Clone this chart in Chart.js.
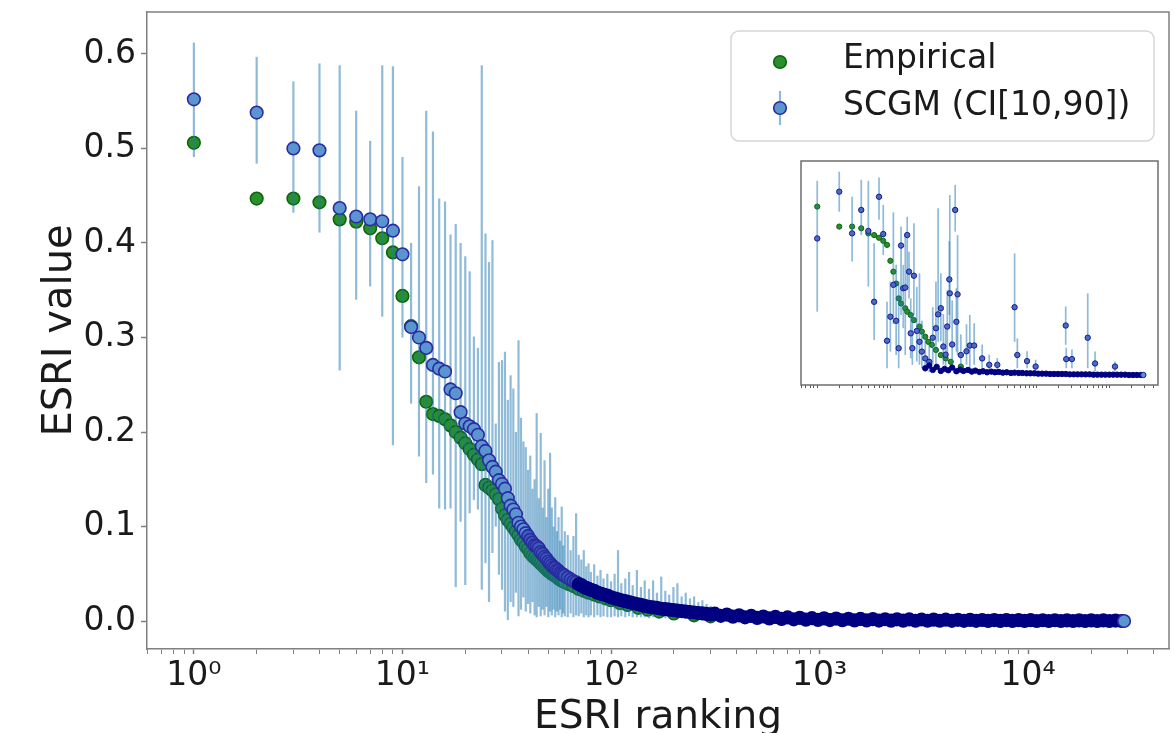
<!DOCTYPE html>
<html>
<head>
<meta charset="utf-8">
<script src="https://cdn.jsdelivr.net/npm/chart.js@4.4.1/dist/chart.umd.min.js"></script>
<style>
  body { margin: 0; background: #fff; }
  #wrap { position: relative; width: 1175px; height: 733px; overflow: hidden; }
  #main { position: absolute; left: 0; top: 0; }
  #inset { position: absolute; left: 800px; top: 160px; }
</style>
</head>
<body>
<div id="wrap">
  <canvas id="main" width="1175" height="733"></canvas>
  <canvas id="inset" width="361" height="230"></canvas>
</div>
<script>
// axis ticks
const xTickValues = [1, 10, 100, 1000, 10000];
const xTickLabels = ["10⁰", "10¹", "10²", "10³", "10⁴"];
const yTickValues = [0, 0.1, 0.2, 0.3, 0.4, 0.5, 0.6];

// Empirical ESRI value by ranking
const empRanks = [
  1, 2, 3, 4, 5, 6, 7, 8, 9, 10, 11, 12, 13, 14, 15, 16, 17, 18, 19, 20,
  21, 22, 23, 24, 25, 26, 27, 28, 29, 30, 31, 32, 33, 34, 35, 36, 37, 38, 39, 40,
  41, 42, 43, 44, 45, 46, 47, 48, 49, 50, 51, 52, 53, 54, 55, 56, 57, 58, 59, 60,
  63, 66, 70, 74, 78, 83, 88, 94, 100, 110, 120, 135, 150, 170, 200, 250, 300,
];
const empValues = [
  0.506, 0.447, 0.447, 0.443, 0.425, 0.4225, 0.4155, 0.405, 0.39, 0.344,
  0.312, 0.279, 0.232, 0.219, 0.217, 0.2135, 0.207, 0.2, 0.194, 0.188,
  0.182, 0.176, 0.171, 0.166, 0.144, 0.141, 0.138, 0.134, 0.129, 0.119,
  0.112, 0.107, 0.103, 0.099, 0.095, 0.091, 0.086, 0.083, 0.079, 0.076,
  0.072, 0.069, 0.067, 0.065, 0.063, 0.061, 0.059, 0.057, 0.055, 0.053,
  0.052, 0.05, 0.049, 0.048, 0.047, 0.045, 0.044, 0.043, 0.042, 0.041,
  0.039, 0.037, 0.034, 0.032, 0.03, 0.028, 0.026, 0.024, 0.022, 0.019, 0.017, 0.014, 0.012, 0.01, 0.008, 0.006, 0.005,
];

// SCGM value with CI[10,90] bars
const scgmRanks = [
  1, 2, 3, 4, 5, 6, 7, 8, 9, 10, 11, 12, 13, 14, 15, 16, 17, 18, 19, 20,
  21, 22, 23, 24, 25, 26, 27, 28, 29, 30, 31, 32, 33, 34, 35, 36, 37, 38, 39, 40,
  41, 42, 43, 44, 45, 46, 47, 48, 49, 50, 51, 52, 53, 54, 55, 56, 57, 58, 59, 60,
  62, 64, 66, 68, 70, 72, 74, 76, 78, 80, 83, 86, 89, 92, 96, 100,
  104, 108, 112, 117, 122, 127, 133, 139, 145, 152, 159, 166, 174, 182, 190, 199, 208, 218, 228, 239, 250, 262, 274, 287, 300,
];
const scgmValues = [
  0.552, 0.538, 0.5, 0.498, 0.437, 0.428, 0.425, 0.423, 0.413, 0.388,
  0.311, 0.3, 0.289, 0.271, 0.267, 0.264, 0.245, 0.241, 0.221, 0.209,
  0.206, 0.203, 0.197, 0.185, 0.18, 0.17, 0.163, 0.158, 0.149, 0.145,
  0.14, 0.13, 0.122, 0.118, 0.113, 0.104, 0.1, 0.097, 0.093, 0.09,
  0.086, 0.083, 0.08, 0.079, 0.077, 0.073, 0.071, 0.068, 0.066, 0.063,
  0.061, 0.059, 0.057, 0.056, 0.054, 0.053, 0.051, 0.05, 0.049, 0.048,
  0.046, 0.044, 0.042, 0.041, 0.039, 0.038, 0.036, 0.035, 0.034, 0.033, 0.032, 0.03, 0.029, 0.028, 0.027, 0.025,
  0.024, 0.023, 0.022, 0.021, 0.02, 0.019, 0.018, 0.017, 0.016, 0.015, 0.0145, 0.014, 0.013, 0.0125, 0.012,
  0.0115, 0.011, 0.0105, 0.01, 0.0095, 0.009, 0.0085, 0.008, 0.0075, 0.007,
];
const scgmLow = [
  0.491, 0.484, 0.432, 0.411, 0.265, 0.34, 0.354, 0.322, 0.186, 0.3,
  0.23, 0.174, 0.146, 0.155, 0.119, 0.118, 0.119, 0.036, 0.105, 0.038,
  0.114, 0.128, 0.118, 0.033, 0.061, 0.02, 0.072, 0.1, 0.049, 0.033,
  0.01, 0.001, 0.02, 0.015, 0.03, 0.005, 0.012, 0.025, 0.01, 0.018,
  0.008, 0.02, 0.006, 0.004, 0.015, 0.005, 0.012, 0.006, 0.015, 0.004,
  0.01, 0.006, 0.012, 0.004, 0.01, 0.006, 0.012, 0.004, 0.008, 0.005,
  0.004, 0.008, 0.004, 0.006, 0.005, 0.008, 0.004, 0.006, 0.004, 0.006, 0.004, 0.006, 0.004, 0.005, 0.004, 0.004,
  0.005, 0.004, 0.005, 0.004, 0.005, 0.004, 0.004, 0.004, 0.004, 0.003, 0.004, 0.003, 0.003, 0.003, 0.003,
  0.003, 0.003, 0.003, 0.003, 0.003, 0.003, 0.003, 0.003, 0.003, 0.002,
];
const scgmHigh = [
  0.612, 0.597, 0.571, 0.59, 0.588, 0.54, 0.508, 0.588, 0.587, 0.491,
  0.4, 0.46, 0.54, 0.518, 0.447, 0.444, 0.409, 0.42, 0.4, 0.386,
  0.37, 0.301, 0.289, 0.588, 0.41, 0.38, 0.403, 0.209, 0.274, 0.276,
  0.285, 0.234, 0.26, 0.246, 0.2, 0.297, 0.215, 0.19, 0.184, 0.16,
  0.175, 0.14, 0.15, 0.22, 0.13, 0.199, 0.12, 0.17, 0.11, 0.14,
  0.178, 0.12, 0.1, 0.131, 0.095, 0.11, 0.085, 0.121, 0.08, 0.095,
  0.091, 0.075, 0.09, 0.114, 0.07, 0.065, 0.075, 0.058, 0.061, 0.052, 0.06, 0.048, 0.054, 0.045, 0.05, 0.042,
  0.05, 0.075, 0.04, 0.045, 0.052, 0.038, 0.054, 0.036, 0.043, 0.034, 0.043, 0.03, 0.047, 0.032, 0.028,
  0.036, 0.04, 0.026, 0.03, 0.024, 0.026, 0.02, 0.022, 0.018, 0.016,
];
// long tail of SCGM values (bars hidden inside the band)
const scgmTailRanks = [
  314, 336, 359, 384, 411, 439, 470, 502, 537, 574, 614, 657, 702, 751, 803, 859, 918, 982,
  1050, 1120, 1200, 1285, 1375, 1470, 1570, 1680, 1800, 1925, 2060, 2200, 2350, 2515, 2690, 2880,
  3080, 3290, 3520, 3765, 4025, 4305, 4600, 4920, 5260, 5625, 6015, 6430, 6875, 7350, 7860, 8400,
  8985, 9605, 10270, 10980, 11740, 12550, 13420, 14350, 15340, 16400, 17540, 18750, 20050, 21430,
  22920, 24500, 26200, 28000, 28800,
];
const scgmTailValues = [
  0.0078, 0.0055, 0.0068, 0.0046, 0.006, 0.0039, 0.0054, 0.0033, 0.0048, 0.0027, 0.0043, 0.0022, 0.0038, 0.0018, 0.0034, 0.0014, 0.003, 0.0012,
  0.0028, 0.001, 0.0026, 0.0008, 0.0024, 0.0007, 0.0022, 0.0006, 0.002, 0.0005, 0.0019, 0.0004, 0.0018, 0.0004, 0.0017, 0.0003,
  0.0016, 0.0003, 0.0015, 0.0003, 0.0014, 0.0002, 0.0013, 0.0002, 0.0012, 0.0002, 0.0011, 0.0001, 0.001, 0.0001, 0.001, 0.0001,
  0.0009, 0.0001, 0.0009, 0, 0.0008, 0, 0.0008, 0, 0.0007, 0, 0.0007, 0, 0.0006, 0,
  0.0006, 0, 0.0005, 0, 0,
];

// inset panel
const insetEmpRanks = [1, 2, 3, 4, 5, 6, 7, 8, 9, 10, 11, 12, 13, 14, 16, 17, 19, 21, 25, 27, 30, 33, 37, 42, 49, 57, 67, 92];
const insetEmpValues = [
  0.497, 0.438, 0.438, 0.433, 0.418, 0.413, 0.405, 0.396, 0.384, 0.337, 0.305, 0.27, 0.226, 0.211,
  0.197, 0.187, 0.177, 0.162, 0.143, 0.128, 0.113, 0.098, 0.089, 0.074, 0.059, 0.049, 0.039, 0.025,
];
const insetScgmRanks = [
  1, 2, 3, 4, 5, 6, 7, 8, 9, 10, 11, 12, 13, 14, 15, 16, 17, 18, 19, 20, 21, 23, 25, 27, 30, 34, 38, 42,
  45, 49, 53, 57, 60, 64, 65, 70, 77, 80, 83, 92, 110, 122, 140, 180, 225, 290, 500, 545, 740, 970,
  2500, 2540, 3040, 5000, 6300, 11800,
];
const insetScgmValues = [
  0.403, 0.541, 0.418, 0.487, 0.425, 0.216, 0.526, 0.416, 0.101, 0.172, 0.266, 0.16, 0.079, 0.382,
  0.256, 0.258, 0.413, 0.305, 0.123, 0.079, 0.293, 0.13, 0.098, 0.069, 0.049, 0.039, 0.11, 0.138,
  0.179, 0.197, 0.084, 0.06, 0.143, 0.282, 0.241, 0.09, 0.487, 0.157, 0.238, 0.059, 0.07, 0.087,
  0.087, 0.049, 0.03, 0.03, 0.2, 0.059, 0.041, 0.025, 0.146, 0.047, 0.047, 0.11, 0.034, 0.025,
];
const insetScgmLow = [
  0.187, 0.482, 0.335, 0.413, 0.261, 0.103, 0.458, 0.354, 0.02, 0.069, 0.15, 0.059, 0.02, 0.177,
  0.138, 0.059, 0.266, 0.226, 0.049, 0.03, 0.177, 0.04, 0.03, 0.02, 0.01, 0.008, 0.03, 0.02,
  0.098, 0.1, 0.03, 0.02, 0.06, 0.177, 0.148, 0.03, 0.423, 0.069, 0.059, 0.02, 0.03, 0.02,
  0.03, 0.02, 0.01, 0.01, 0.098, 0.02, 0.02, 0.01, 0.089, 0.02, 0.02, 0.02, 0.01, 0.01,
];
const insetScgmHigh = [
  0.573, 0.6, 0.526, 0.576, 0.573, 0.389, 0.583, 0.502, 0.216, 0.276, 0.48, 0.325, 0.276, 0.438,
  0.325, 0.413, 0.467, 0.364, 0.226, 0.18, 0.448, 0.26, 0.3, 0.16, 0.12, 0.09, 0.2, 0.276,
  0.492, 0.3, 0.18, 0.15, 0.25, 0.395, 0.531, 0.22, 0.561, 0.256, 0.413, 0.12, 0.15, 0.177,
  0.153, 0.09, 0.06, 0.05, 0.359, 0.108, 0.07, 0.045, 0.202, 0.08, 0.075, 0.241, 0.069, 0.04,
];
const insetBandRanks = [
  30, 34, 38, 43, 49, 55, 62, 70, 80, 90, 100, 115, 130, 145, 165, 185, 210, 240, 270, 305,
  345, 390, 445, 500, 570, 640, 730, 820, 930, 1050, 1190, 1350, 1530, 1730, 1960, 2220, 2510, 2840,
  3220, 3640, 4120, 4670, 5290, 5990, 6780, 7680, 8700, 9850, 11150, 12630, 14300, 16200, 18350,
  20780, 23530, 26650, 28800,
];
const insetBandValues = [
  0.02, 0.028, 0.015, 0.024, 0.012, 0.018, 0.014, 0.022, 0.011, 0.016, 0.012, 0.015, 0.01, 0.013,
  0.009, 0.011, 0.008, 0.01, 0.008, 0.009, 0.007, 0.008, 0.006, 0.007, 0.006, 0.006, 0.005, 0.005,
  0.005, 0.004, 0.004, 0.004, 0.003, 0.003, 0.003, 0.003, 0.003, 0.002, 0.002, 0.002, 0.002, 0.002,
  0.002, 0.001, 0.001, 0.001, 0.001, 0.001, 0.001, 0.001, 0.001, 0.001, 0, 0, 0, 0, 0,
];

const FONT = "'DejaVu Sans', sans-serif";
const TEXT = "#1a1a1a";
const SPINE = "#808080";
const BAR = "rgba(31, 119, 180, 0.5)";
const BLUE_FILL = "#5b95d0";
const BLUE_EDGE = "#2a2aa2";
const NAVY = "#000080";
const GREEN_FILL = "#2a8f2a";
const GREEN_EDGE = "#0b660b";

const toPoints = (xs, ys) => xs.map((x, i) => ({ x, y: ys[i] }));

// log ticks: majors from xTickValues, minors at 2..9 of each decade
const logTicks = (scale) => {
  const ticks = [];
  [0.1, ...xTickValues].forEach((decade) => {
    for (let m = 1; m <= 9; m++) {
      const v = m * decade;
      if (v >= scale.min && v <= scale.max) ticks.push({ value: v, major: m === 1 });
    }
  });
  scale.ticks = ticks;
};

// keep the plot box where it is, whatever the labels want
const noPadding = (s) => {
  s.paddingTop = 0;
  s.paddingBottom = 0;
  s.paddingLeft = 0;
  s.paddingRight = 0;
};

// vertical CI bars, drawn under the dataset markers
const errorBars = {
  id: "errorBars",
  beforeDatasetDraw(chart, args) {
    const ds = chart.data.datasets[args.index];
    if (!ds.errLow) return;
    const { ctx, chartArea, scales } = chart;
    ctx.save();
    ctx.beginPath();
    ctx.rect(chartArea.left, chartArea.top, chartArea.width, chartArea.height);
    ctx.clip();
    ctx.strokeStyle = BAR;
    ctx.lineWidth = ds.errWidth;
    ds.errLow.forEach((lo, i) => {
      const px = scales.x.getPixelForValue(ds.data[i].x);
      ctx.beginPath();
      ctx.moveTo(px, scales.y.getPixelForValue(lo));
      ctx.lineTo(px, scales.y.getPixelForValue(ds.errHigh[i]));
      ctx.stroke();
    });
    ctx.restore();
  },
};

const background = {
  id: "background",
  beforeDraw(chart) {
    const ctx = chart.ctx;
    ctx.save();
    ctx.fillStyle = "#fff";
    ctx.fillRect(0, 0, chart.width, chart.height);
    ctx.restore();
  },
};

// top and right spines (left/bottom come from the axes)
const frame = {
  id: "frame",
  afterDraw(chart, args, opts) {
    const { ctx, chartArea: a } = chart;
    ctx.save();
    ctx.strokeStyle = opts.color || SPINE;
    ctx.lineWidth = opts.width || 1.5;
    ctx.beginPath();
    if (opts.full) {
      ctx.rect(a.left, a.top, a.right - a.left, a.bottom - a.top);
    } else {
      ctx.moveTo(a.left, a.top);
      ctx.lineTo(a.right, a.top);
      ctx.lineTo(a.right, a.bottom);
    }
    ctx.stroke();
    ctx.restore();
  },
};

const legendBox = {
  id: "legendBox",
  afterDraw(chart) {
    const ctx = chart.ctx;
    const [scgm, emp] = chart.data.datasets;
    ctx.save();
    ctx.beginPath();
    ctx.roundRect(731, 31, 423, 110, 8);
    ctx.fillStyle = "rgba(255,255,255,0.8)";
    ctx.fill();
    ctx.strokeStyle = "#d6d6d6";
    ctx.lineWidth = 1.5;
    ctx.stroke();

    ctx.beginPath();
    ctx.arc(780, 62, 6.3, 0, Math.PI * 2);
    ctx.fillStyle = GREEN_FILL;
    ctx.fill();
    ctx.lineWidth = 1.6;
    ctx.strokeStyle = GREEN_EDGE;
    ctx.stroke();

    ctx.beginPath();
    ctx.moveTo(780, 91);
    ctx.lineTo(780, 125);
    ctx.strokeStyle = BAR;
    ctx.lineWidth = 2.2;
    ctx.stroke();
    ctx.beginPath();
    ctx.arc(780, 108, 6.3, 0, Math.PI * 2);
    ctx.fillStyle = BLUE_FILL;
    ctx.fill();
    ctx.lineWidth = 1.6;
    ctx.strokeStyle = BLUE_EDGE;
    ctx.stroke();

    ctx.fillStyle = TEXT;
    ctx.font = "33px " + FONT;
    ctx.textBaseline = "middle";
    ctx.fillText(emp.label, 843, 59);
    ctx.fillText(scgm.label, 843, 106);
    ctx.restore();
  },
};

const mainScgm = toPoints(scgmRanks, scgmValues).concat(toPoints(scgmTailRanks, scgmTailValues));
const lastMain = mainScgm.length - 1;
const rankOf = (ctx) => (ctx.raw ? ctx.raw.x : 0);

new Chart(document.getElementById("main"), {
  type: "scatter",
  data: {
    datasets: [
      {
        label: "SCGM (CI[10,90])",
        data: mainScgm,
        errLow: scgmLow,
        errHigh: scgmHigh,
        errWidth: 2.2,
        pointRadius: 6.3,
        borderWidth: 1.6,
        borderColor: (ctx) => (rankOf(ctx) >= 70 && ctx.dataIndex !== lastMain ? NAVY : BLUE_EDGE),
        backgroundColor: (ctx) => {
          if (ctx.dataIndex === lastMain) return BLUE_FILL;
          const r = rankOf(ctx);
          if (r >= 70) return NAVY;
          if (r >= 40) return "#3a5db8";
          return BLUE_FILL;
        },
      },
      {
        label: "Empirical",
        data: toPoints(empRanks, empValues),
        pointRadius: 6.3,
        borderWidth: 1.6,
        borderColor: GREEN_EDGE,
        backgroundColor: GREEN_FILL,
      },
    ],
  },
  options: {
    responsive: false,
    animation: false,
    events: [],
    layout: { autoPadding: false, padding: { top: 12, right: 6, left: 0, bottom: 0 } },
    plugins: { legend: { display: false }, tooltip: { enabled: false }, frame: {} },
    scales: {
      x: {
        type: "logarithmic",
        min: 0.596,
        max: 47300,
        afterBuildTicks: logTicks,
        afterFit: (s) => { s.height = 84; noPadding(s); },
        border: { color: SPINE, width: 1.5 },
        grid: {
          drawOnChartArea: false,
          tickLength: 5,
          tickColor: SPINE,
          tickWidth: (ctx) => (ctx.tick && ctx.tick.major ? 1.5 : 1),
        },
        ticks: {
          autoSkip: false,
          maxRotation: 0,
          padding: 3,
          color: TEXT,
          font: { family: FONT, size: 33 },
          callback: (v) => {
            const i = xTickValues.indexOf(v);
            return i >= 0 ? xTickLabels[i] : "";
          },
        },
        title: {
          display: true,
          text: "ESRI ranking",
          color: TEXT,
          font: { family: FONT, size: 39, lineHeight: 0.8 },
          padding: { top: 0, bottom: 0 },
        },
      },
      y: {
        min: -0.0296,
        max: 0.6444,
        afterBuildTicks: (s) => { s.ticks = yTickValues.map((v) => ({ value: v })); },
        afterFit: (s) => { s.width = 147; noPadding(s); },
        border: { color: SPINE, width: 1.5 },
        grid: { drawOnChartArea: false, tickLength: 6, tickColor: SPINE, tickWidth: 1.5 },
        ticks: {
          padding: 5,
          color: TEXT,
          font: { family: FONT, size: 33 },
          callback: (v) => v.toFixed(1),
        },
        title: {
          display: true,
          text: "ESRI value",
          color: TEXT,
          font: { family: FONT, size: 40, lineHeight: 1 },
          padding: { top: 41, bottom: 0 },
        },
      },
    },
  },
  plugins: [background, errorBars, frame, legendBox],
});

const insetScgm = toPoints(insetScgmRanks, insetScgmValues).concat(toPoints(insetBandRanks, insetBandValues));
const lastInset = insetScgm.length - 1;

new Chart(document.getElementById("inset"), {
  type: "scatter",
  data: {
    datasets: [
      {
        label: "SCGM",
        data: insetScgm,
        errLow: insetScgmLow,
        errHigh: insetScgmHigh,
        errWidth: 1.7,
        pointRadius: 2.7,
        borderWidth: 1,
        borderColor: (ctx) => (ctx.dataIndex >= insetScgmRanks.length && ctx.dataIndex !== lastInset ? NAVY : "#1a1a96"),
        backgroundColor: (ctx) => {
          if (ctx.dataIndex === lastInset) return BLUE_FILL;
          return ctx.dataIndex >= insetScgmRanks.length ? NAVY : "#4a6cc0";
        },
      },
      {
        label: "Empirical",
        data: toPoints(insetEmpRanks, insetEmpValues),
        pointRadius: 2.6,
        borderWidth: 1,
        borderColor: GREEN_EDGE,
        backgroundColor: GREEN_FILL,
      },
    ],
  },
  options: {
    responsive: false,
    animation: false,
    events: [],
    layout: { autoPadding: false, padding: { top: 1, right: 3, left: 1, bottom: 0 } },
    plugins: { legend: { display: false }, tooltip: { enabled: false }, frame: { full: true, color: "#6e6e6e", width: 1.5 } },
    scales: {
      x: {
        type: "logarithmic",
        min: 0.611,
        max: 45700,
        afterBuildTicks: logTicks,
        afterFit: (s) => { s.height = 5; noPadding(s); },
        border: { display: false },
        grid: { drawOnChartArea: false, tickLength: 3, tickColor: "#555", tickWidth: 1 },
        ticks: { display: false },
      },
      y: { display: false, min: -0.0295, max: 0.6315 },
    },
  },
  plugins: [background, errorBars, frame],
});
</script>
</body>
</html>
